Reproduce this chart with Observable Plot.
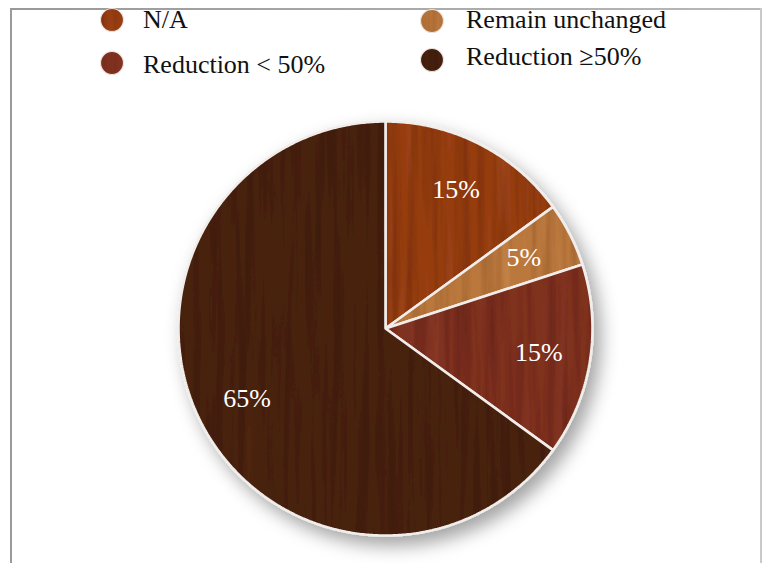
<!DOCTYPE html>
<html>
<head>
<meta charset="utf-8">
<script src="https://cdn.jsdelivr.net/npm/d3@7"></script>
<script src="https://cdn.jsdelivr.net/npm/@observablehq/plot@0.6"></script>
<style>
  html, body { margin: 0; padding: 0; background: #fff; }
  #wrap { position: relative; width: 763px; height: 563px; overflow: hidden; }
  #wrap > * { position: absolute; left: 0; top: 0; }
</style>
</head>
<body>
<div id="wrap"></div>
<script>
// Survey answers and their shares (%)
const categories = ["N/A", "Remain unchanged", "Reduction < 50%", "Reduction \u226550%"];
const shares = [15, 5, 15, 65];

// Wood finish for each answer: base tone, dark grain, light grain, grain seed
const woods = [
  { base: "#973d11", dark: "#5a1c05", light: "#bd6427", seed: 3 },
  { base: "#bb783d", dark: "#7a4418", light: "#dca86c", seed: 7 },
  { base: "#7f301f", dark: "#4e180d", light: "#a34f38", seed: 11 },
  { base: "#48210e", dark: "#2a0f04", light: "#62321a", seed: 19 }
];

const W = 763, H = 563;
const wrap = document.getElementById("wrap");

// --- shared SVG defs: wood patterns and the drop shadow ---
const defs = d3.create("svg").attr("width", 0).attr("height", 0)
  .style("position", "absolute");
const d = defs.append("defs");
const hex = c => { const k = d3.rgb(c); return [k.r / 255, k.g / 255, k.b / 255]; };
function grainFilter(id, color, freq, seed, a, b, ch) {
  const [r, g, bb] = hex(color);
  const row = [0, 0, 0, 0, b]; row[ch] = a;
  const f = d.append("filter").attr("id", id)
    .attr("x", 0).attr("y", 0).attr("width", 1).attr("height", 1)
    .attr("color-interpolation-filters", "sRGB");
  f.append("feTurbulence").attr("type", "fractalNoise")
    .attr("baseFrequency", freq).attr("numOctaves", 4).attr("seed", seed);
  f.append("feColorMatrix").attr("type", "matrix").attr("values",
    `0 0 0 0 ${r}  0 0 0 0 ${g}  0 0 0 0 ${bb}  ${row.join(" ")}`);
}
woods.forEach((w, i) => {
  grainFilter(`gd${i}`, w.dark, "0.13 0.005", w.seed, 1.6, -0.6, 0);
  grainFilter(`gl${i}`, w.light, "0.07 0.004", w.seed + 5, -1.5, 0.62, 1);
  const p = d.append("pattern").attr("id", `wood${i}`)
    .attr("patternUnits", "userSpaceOnUse").attr("width", W).attr("height", H);
  p.append("rect").attr("width", W).attr("height", H).attr("fill", w.base);
  p.append("rect").attr("width", W).attr("height", H).attr("filter", `url(#gl${i})`).attr("opacity", 0.6);
  p.append("rect").attr("width", W).attr("height", H).attr("filter", `url(#gd${i})`).attr("opacity", 0.55);
});
const sh = d.append("filter").attr("id", "pieShadow")
  .attr("x", "-15%").attr("y", "-15%").attr("width", "140%").attr("height", "140%");
sh.append("feDropShadow").attr("dx", 7).attr("dy", 9).attr("stdDeviation", 9)
  .attr("flood-color", "#000").attr("flood-opacity", 0.36);
wrap.appendChild(defs.node());

// --- slices from the shares ---
const rows = categories.map((c, i) => ({ cat: c, share: shares[i] }));
const arcs = d3.pie().sort(null).value(r => r.share)(rows);
const outline = [];
for (const a of arcs) {
  outline.push({ cat: a.data.cat, x: 0, y: 0 });
  const n = Math.ceil((a.endAngle - a.startAngle) / (Math.PI / 360));
  for (let k = 0; k <= n; ++k) {
    const t = a.startAngle + (a.endAngle - a.startAngle) * k / n;
    outline.push({ cat: a.data.cat, x: Math.sin(t), y: Math.cos(t) });
  }
}
const labels = arcs.map(a => {
  const m = (a.startAngle + a.endAngle) / 2;
  return { x: 0.75 * Math.sin(m), y: 0.75 * Math.cos(m), text: `${a.data.share}%` };
});

const chart = Plot.plot({
  width: W, height: H,
  marginLeft: 178, marginRight: 171, marginTop: 121, marginBottom: 28,
  x: { domain: [-1, 1], axis: null },
  y: { domain: [-1, 1], axis: null },
  color: { domain: categories, range: categories.map((_, i) => `url(#wood${i})`) },
  style: { background: "transparent", overflow: "visible" },
  marks: [
    Plot.line(outline, {
      x: "x", y: "y", z: "cat", fill: "cat", curve: "linear-closed",
      stroke: "#f1edeb", strokeWidth: 2.6, strokeLinejoin: "miter"
    }),
    Plot.text(labels, {
      x: "x", y: "y", text: "text", fill: "#fff", fontSize: 26,
      fontFamily: "Liberation Serif"
    })
  ]
});
d3.select(chart).select('g[aria-label="line"]').attr("filter", "url(#pieShadow)");
wrap.appendChild(chart);

// --- frame rules ---
const rule = (l, t, w, h, c) => {
  const e = document.createElement("div");
  e.style.cssText = `left:${l}px;top:${t}px;width:${w}px;height:${h}px;background:${c}`;
  wrap.appendChild(e);
};
rule(10, 8, 752, 2, "linear-gradient(to right,#999,#b8b8b8)");
rule(10, 8, 2, 555, "#9a9a9a");
rule(760, 8, 1.5, 555, "#c9c9c9");

// --- legend ---
const legendCols = [
  { cx: 112, tx: 143, cy: [20, 63], by: [28, 73] },
  { cx: 432, tx: 466, cy: [21, 60], by: [28, 65] }
];
const leg = d3.create("svg").attr("width", W).attr("height", 90);
categories.forEach((c, i) => {
  const col = legendCols[i % 2], row = Math.floor(i / 2);
  leg.append("circle").attr("cx", col.cx).attr("cy", col.cy[row]).attr("r", 11.5)
    .attr("fill", `url(#wood${i})`).attr("stroke", "#eee4df").attr("stroke-width", 1.2);
  leg.append("text").attr("x", col.tx).attr("y", col.by[row])
    .attr("font-family", "Liberation Serif").attr("font-size", 26).attr("fill", "#111")
    .text(c);
});
wrap.appendChild(leg.node());
</script>
</body>
</html>
